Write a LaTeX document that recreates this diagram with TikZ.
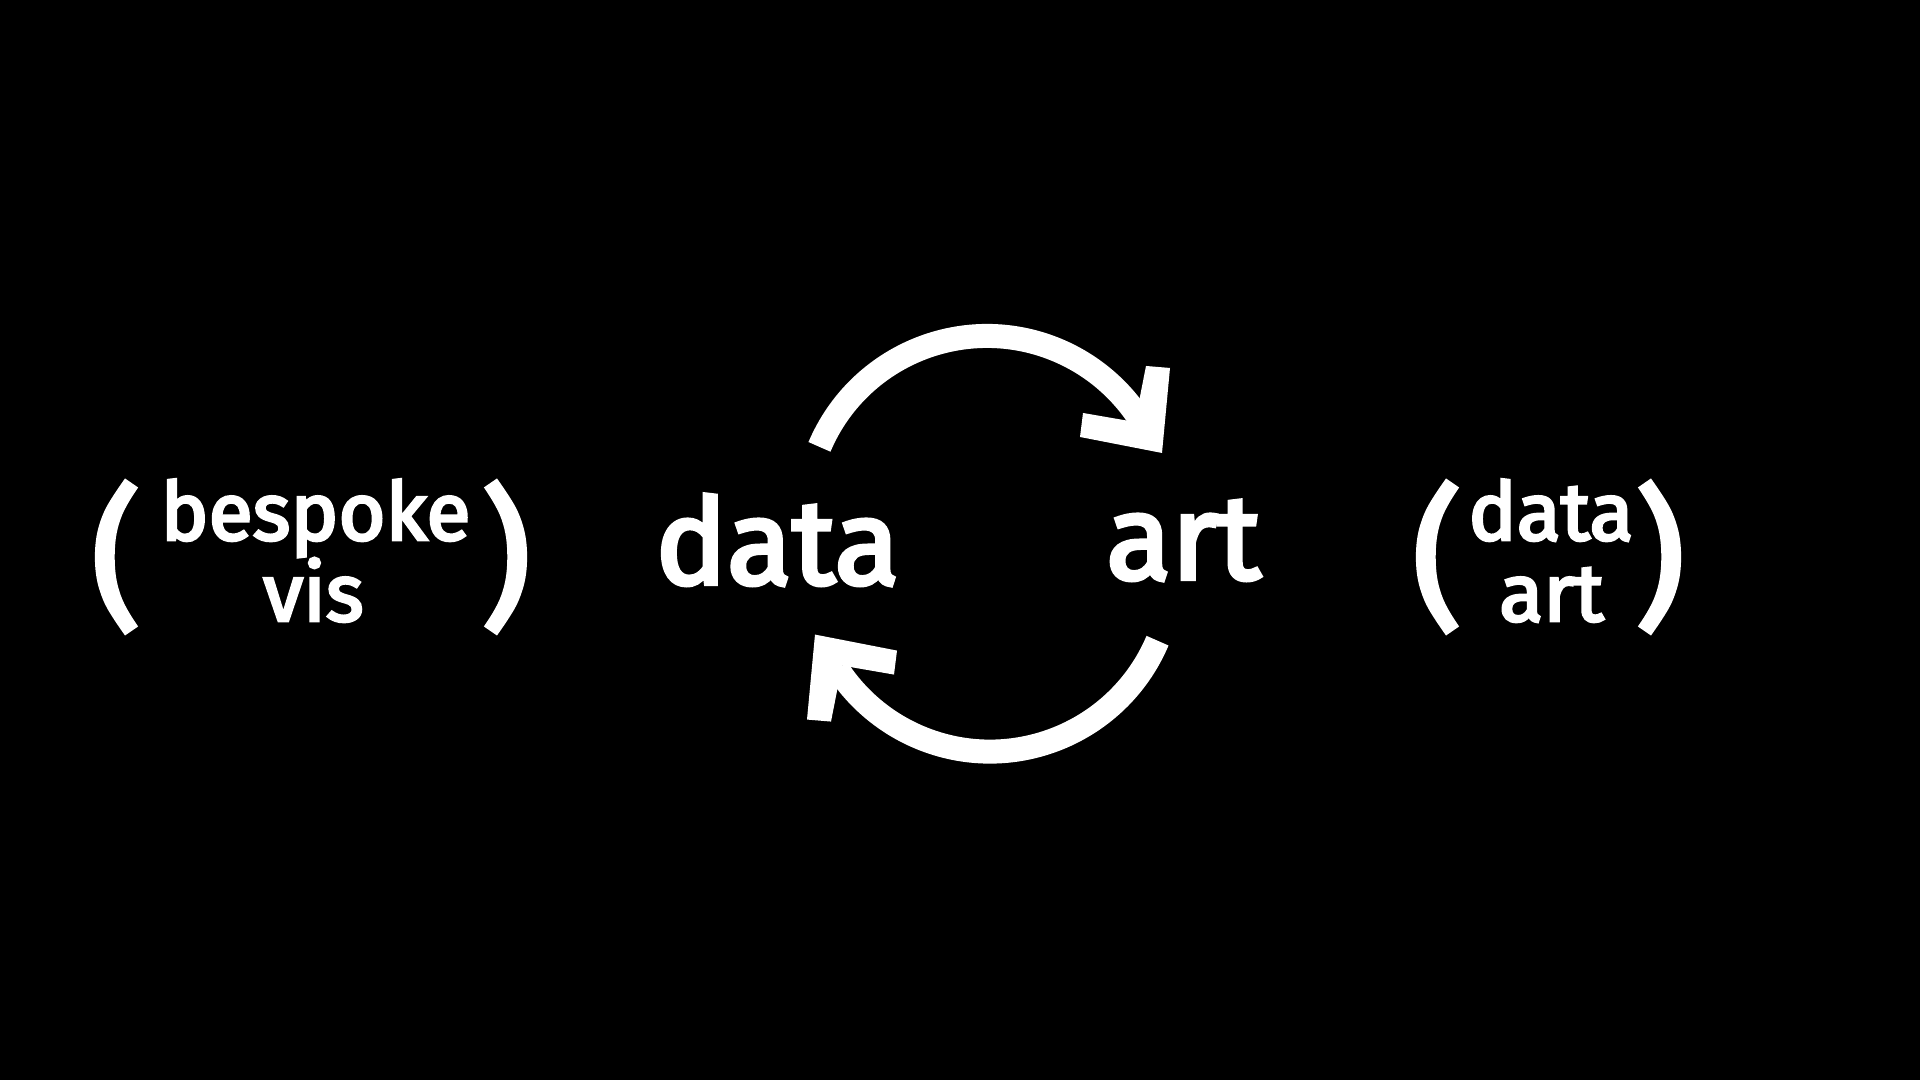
\documentclass[tikz,border=0pt]{standalone}
\usepackage{fontspec}
\setmainfont{Fira Sans}
\newfontfamily\medfont{Fira Sans}[FakeBold=3.5]
\begin{document}
\begin{tikzpicture}[x=0.01cm,y=0.01cm,
  word/.style={text=white,inner sep=0pt,font=\fontsize{#1}{#1}\selectfont\medfont},
  paren/.style={text=white,inner sep=0pt,font=\fontsize{43}{43}\selectfont\medfont},
  band/.style={draw=white,line width=6.83pt,line cap=butt},
  head/.style={fill=white}]
\fill[black] (0,0) rectangle (1920,1080);
\useasboundingbox (0,0) rectangle (1920,1080);
% left group
\node[paren] (lp1) at (116,523) {(};
\node[word=23, anchor=base] (bes) at (315.5,540) {bespoke};
\node[word=23, anchor=base] (vis) at (313.5,459) {vis};
\node[paren] (rp1) at (506,523) {)};
% central
\node[word=34, anchor=base] (data) at (777.5,496) {data};
\node[word=34, anchor=base] (art) at (1183.5,501) {art};
% right group
\node[paren] (lp2) at (1437,523) {(};
\node[word=23, anchor=base] (data2) at (1551,540) {data};
\node[word=23, anchor=base] (art2) at (1551.5,459) {art};
\node[paren] (rp2) at (1660,523) {)};
% cycle arrows
\coordinate (ctop) at (987,562);
\coordinate (cbot) at (990,510.4);
\draw[band] ([shift={(157:182)}]ctop) arc[start angle=157,end angle=33,radius=182];
\fill[head] (1146,714) -- (1170,712) -- (1162,627) -- (1080,643) -- (1083,667) -- (1135,658) -- cycle;
\draw[band] ([shift={(337:182)}]cbot) arc[start angle=337,end angle=213,radius=182];
\fill[head] (831,358.4) -- (807,360.4) -- (815,445.4) -- (897,429.4) -- (894,405.4) -- (842,414.4) -- cycle;
\end{tikzpicture}
\end{document}
